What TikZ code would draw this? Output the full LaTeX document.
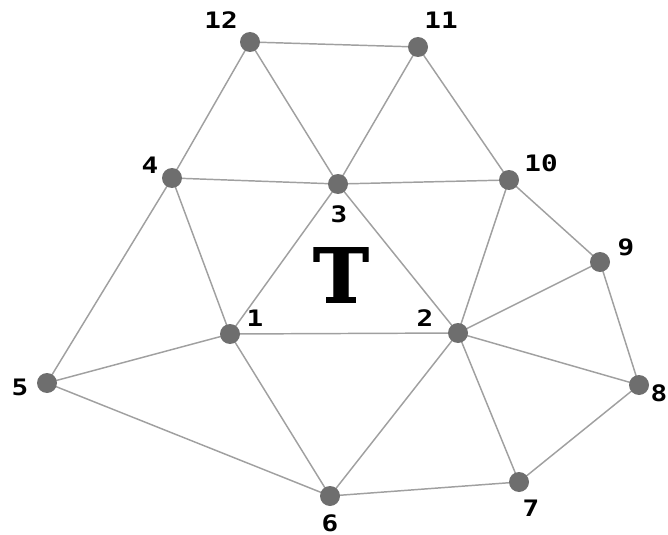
\documentclass[tikz,border=0pt]{standalone}
\usepackage{fontspec}
\setmonofont{DejaVu Sans Mono}
\newfontfamily\bigserif[BoldFeatures={FakeBold=1.5}]{DejaVu Serif}
\usetikzlibrary{positioning}
\definecolor{dotgray}{HTML}{6E6E6E}
\definecolor{edgegray}{HTML}{A0A0A0}

\begin{document}
\begin{tikzpicture}[
    x=0.75pt, y=-0.75pt,
    vtx/.style={circle, fill=dotgray, inner sep=0pt, minimum size=15pt},
    lbl/.style={font=\fontsize{17}{19}\selectfont\ttfamily\bfseries,
                inner sep=0pt, xscale=1.22},
    edge/.style={draw=edgegray, line width=1.1pt}
  ]
  \useasboundingbox (0,0) rectangle (668,535);
  % Vertices of the mesh
  \foreach \n/\x/\y in {
    1/230/334, 2/458/333, 3/338/184, 4/172/178,
    5/47/383, 6/330/496, 7/519/482, 8/639/385,
    9/600/262, 10/509/180, 11/418/47, 12/250/42} {
    \coordinate (p\n) at (\x,\y);
  }

  % Edges
  \foreach \a/\b in {
    12/11, 12/4, 12/3, 11/3, 11/10, 4/3, 3/10,
    4/1, 4/5, 3/1, 3/2, 10/2, 10/9, 9/2, 9/8,
    1/2, 1/5, 1/6, 5/6, 2/6, 2/7, 2/8, 6/7, 7/8} {
    \draw[edge] (p\a) -- (p\b);
  }

  \foreach \n in {1,...,12} {
    \node[vtx] (v\n) at (p\n) {};
  }

  % Labels
  \foreach \n/\x/\y in {
    1/255/318, 2/425/318, 3/339/214, 4/150/165,
    5/20/387, 6/330/523, 7/531/508, 8/659/393,
    9/626/247, 10/541/163, 11/441/20, 12/221/20} {
    \node[lbl] (l\n) at (\x,\y) {\n};
  }

  \node[font=\fontsize{56}{60}\selectfont\bigserif\bfseries, inner sep=0pt]
    (tri) at (341,275) {T};
\end{tikzpicture}
\end{document}
